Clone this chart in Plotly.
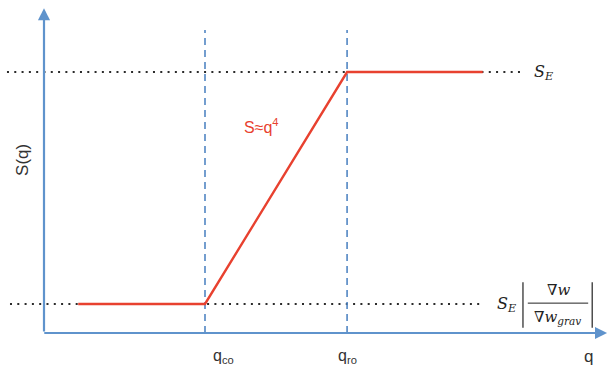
import plotly.graph_objects as go

# ---- data (schematic values) ----
q_curve = [0.85, 4.0, 7.53, 10.9]      # q breakpoints of the S(q) curve
S_curve = [1.0, 1.0, 9.0, 9.0]         # S values at breakpoints
q_co = 4.0
q_ro = 7.53
S_low = 1.0
S_high = 9.0
q_axis_end = 13.99
S_axis_end = 11.2
dash_top = 10.45
top_dot_q = [-0.92, 11.83]
low_dot_q = [-0.845, 10.88]
x_tick_vals = [q_co, q_ro]
x_tick_text = ["q<sub>co</sub>", "q<sub>ro</sub>"]

BLUE = "#5f93cc"
DBLUE = "#5286c3"
RED = "#e8412f"
DOT = "#2b2b2b"

fig = go.Figure()

# dotted horizontal reference lines
fig.add_trace(go.Scatter(x=top_dot_q, y=[S_high, S_high], mode="lines",
                         line=dict(color=DOT, width=2, dash="2px,5.3px"), hoverinfo="skip"))
fig.add_trace(go.Scatter(x=low_dot_q, y=[S_low, S_low], mode="lines",
                         line=dict(color=DOT, width=2, dash="2px,5.3px"), hoverinfo="skip"))

# dashed verticals
for qv in x_tick_vals:
    fig.add_trace(go.Scatter(x=[qv, qv], y=[0, dash_top], mode="lines",
                             line=dict(color=DBLUE, width=1.6, dash="7px,5px"), hoverinfo="skip"))

# S(q) curve
fig.add_trace(go.Scatter(x=q_curve, y=S_curve, mode="lines",
                         line=dict(color=RED, width=2.4), hoverinfo="skip"))

annotations = []
# axes with arrows
annotations.append(dict(x=0, y=S_axis_end, ax=0, ay=0, xref="x", yref="y", axref="x", ayref="y",
                        text="", showarrow=True, arrowhead=2, arrowsize=1.1, arrowwidth=2.2,
                        arrowcolor=BLUE, standoff=0, startstandoff=0))
annotations.append(dict(x=q_axis_end, y=0, ax=-0.03, ay=0, xref="x", yref="y", axref="x", ayref="y",
                        text="", showarrow=True, arrowhead=2, arrowsize=1.1, arrowwidth=2.2,
                        arrowcolor=BLUE, standoff=0, startstandoff=0))

txt_font = dict(family="Liberation Sans, Arial", size=16, color="#333333")
# tick labels
annotations.append(dict(x=4.45, y=-0.80, xref="x", yref="y", text=x_tick_text[0],
                        showarrow=False, font=txt_font))
annotations.append(dict(x=7.55, y=-0.80, xref="x", yref="y", text=x_tick_text[1],
                        showarrow=False, font=txt_font))
annotations.append(dict(x=13.52, y=-0.82, xref="x", yref="y", text="q",
                        showarrow=False, font=dict(family="Liberation Sans, Arial", size=17, color="#333333")))
annotations.append(dict(x=-0.52, y=5.97, xref="x", yref="y", text="S(q)", textangle=-90,
                        showarrow=False, font=dict(family="Liberation Sans, Arial", size=17, color="#333333")))
annotations.append(dict(x=5.40, y=7.14, xref="x", yref="y", text="S≈q<sup>4</sup>",
                        showarrow=False, font=dict(family="Liberation Sans, Arial", size=16, color=RED)))

math_font = dict(family="DejaVu Serif, Liberation Serif, serif", size=16, color="#222222")
annotations.append(dict(x=12.40, y=8.97, xref="x", yref="y", text="<i>S<sub>E</sub></i>",
                        showarrow=False, font=math_font))
annotations.append(dict(x=11.50, y=1.0, xref="x", yref="y", text="<i>S<sub>E</sub></i>",
                        showarrow=False, font=math_font))
annotations.append(dict(x=12.78, y=1.47, xref="x", yref="y", text="∇<i>w</i>",
                        showarrow=False, font=dict(family="DejaVu Serif, serif", size=15, color="#222222")))
annotations.append(dict(x=12.77, y=0.52, xref="x", yref="y", text="∇<i>w<sub>grav</sub></i>",
                        showarrow=False, font=dict(family="DejaVu Serif, serif", size=15, color="#222222")))

shapes = [
    dict(type="line", xref="x", yref="y", x0=11.90, x1=11.90, y0=0.18, y1=1.75,
         line=dict(color="#222222", width=1.2)),
    dict(type="line", xref="x", yref="y", x0=13.62, x1=13.62, y0=0.18, y1=1.75,
         line=dict(color="#222222", width=1.2)),
    dict(type="line", xref="x", yref="y", x0=12.02, x1=13.52, y0=1.03, y1=1.03,
         line=dict(color="#222222", width=1)),
]

fig.update_layout(
    width=611, height=369,
    margin=dict(l=0, r=0, t=0, b=0),
    paper_bgcolor="white", plot_bgcolor="white",
    showlegend=False,
    xaxis=dict(visible=False, range=[-1.0932, 14.087], fixedrange=True),
    yaxis=dict(visible=False, range=[-1.2414, 11.4828], fixedrange=True),
    annotations=annotations,
    shapes=shapes,
)

fig.write_html("out.html", config={"displayModeBar": False},
               post_script="document.body.style.margin='0';document.body.style.overflow='hidden';")
